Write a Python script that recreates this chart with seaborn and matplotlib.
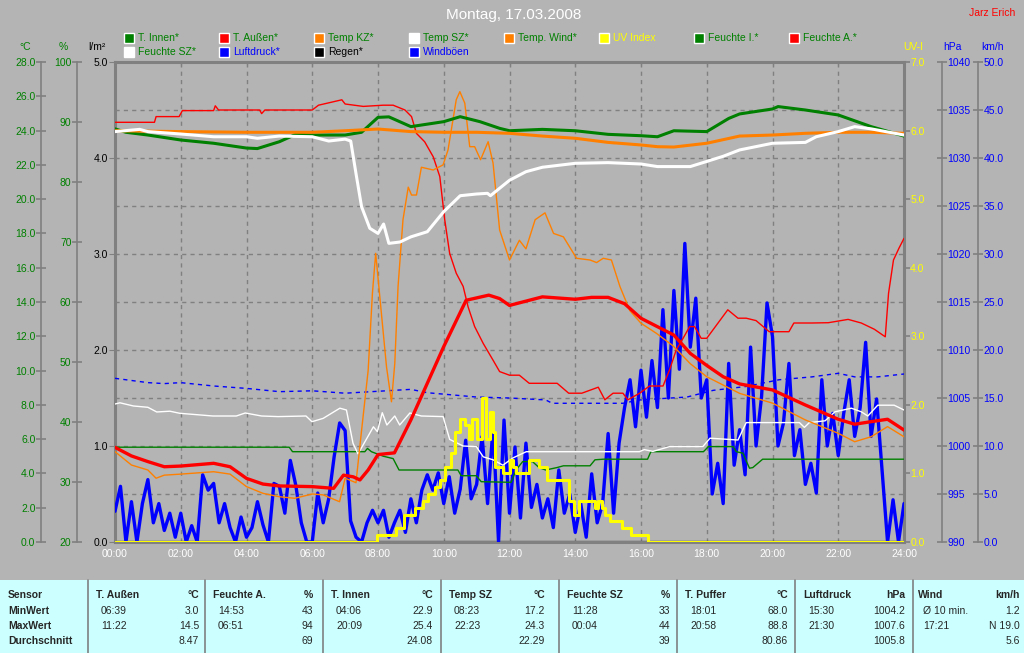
import matplotlib
matplotlib.use("Agg")
import matplotlib.pyplot as plt
import seaborn as sns
import numpy as np
from matplotlib.patches import Rectangle
from matplotlib.lines import Line2D
from matplotlib.ticker import FormatStrFormatter

# ---------------- data (time in hours since midnight) ----------------
# T. Innen (degC)
t_innen_t = [0, 0.33, 1, 2, 3, 4, 4.33, 5, 5.5, 6, 7, 7.5, 8, 8.33, 9, 10, 10.5, 11.1, 11.7, 12, 13, 14,
             15, 16, 16.5, 17, 18, 18.67, 19, 20, 20.17, 21, 22, 23, 24]
t_innen = [24.1, 23.9, 23.74, 23.45, 23.26, 22.98, 22.95, 23.35, 23.78, 23.74, 23.74, 23.9, 24.77, 24.8,
           24.23, 24.52, 24.81, 24.52, 24.13, 23.99, 24.07, 23.99, 23.78, 23.70, 23.64, 23.99, 23.94,
           24.71, 24.97, 25.26, 25.4, 25.2, 24.91, 24.23, 23.68]

# T. Aussen (degC)
t_aussen_t = [0, 0.5, 1, 1.5, 2, 3, 3.5, 4, 4.5, 5, 6, 6.65, 6.95, 7.25, 7.45, 7.7, 8.0, 8.5, 9.0, 9.5,
              10.0, 10.68, 11.37, 11.7, 12, 13, 14, 14.5, 15, 15.5, 16, 16.5, 17, 17.5, 18, 18.5, 19,
              20, 21, 22, 22.5, 23, 23.5, 24]
t_aussen = [5.52, 5.02, 4.69, 4.39, 4.43, 4.59, 4.39, 3.71, 3.38, 3.27, 3.23, 3.13, 3.9, 3.8, 3.62, 4.2,
            5.1, 5.2, 7.12, 9.26, 11.4, 14.1, 14.4, 14.2, 13.8, 14.3, 14.16, 14.27, 14.27, 13.9, 13.05,
            12.56, 12.07, 11.0, 10.3, 9.64, 9.22, 8.87, 7.99, 7.16, 6.87, 7.02, 7.16, 6.53]

# Temp KZ (degC)
temp_kz_t = [0, 2, 4, 6, 7, 8, 9, 10, 11, 12, 13, 14, 15, 16, 16.5, 17, 18, 19, 20, 21, 22, 23, 24]
temp_kz = [23.99, 23.94, 23.9, 23.9, 23.99, 24.09, 23.94, 23.9, 23.9, 23.84, 23.68, 23.55, 23.31, 23.16,
           23.06, 23.04, 23.26, 23.68, 23.74, 23.84, 23.9, 23.9, 23.84]

# Temp SZ (degC)
temp_sz_t = [0, 0.75, 1, 2, 3, 4, 4.33, 5, 6, 6.5, 7, 7.17, 7.33, 7.5, 7.75, 8.0, 8.17, 8.33, 8.67, 9.0,
             9.5, 10.0, 10.5, 11.0, 11.33, 11.42, 12.0, 12.5, 13, 14, 15, 16, 16.5, 17.5, 18, 18.5, 19,
             20, 21, 21.33, 22, 22.5, 23, 24]
temp_sz = [23.94, 24.07, 23.94, 23.8, 23.64, 23.64, 23.55, 23.68, 23.64, 23.39, 23.5, 23.39, 21.5, 19.56,
           18.3, 18.0, 18.55, 17.42, 17.5, 17.8, 18.1, 19.27, 20.2, 20.3, 20.34, 20.2, 21.1, 21.6, 21.86,
           22.09, 22.13, 22.05, 21.9, 21.9, 22.2, 22.5, 22.87, 23.26, 23.31, 23.64, 23.94, 24.23, 24.1,
           23.74]

# Temp. Wind (degC)
temp_wind_t = [0, 0.5, 1, 1.25, 1.5, 2, 3, 3.5, 4, 4.5, 5, 5.47, 6, 6.33, 6.83, 7.0, 7.33, 7.5, 7.7, 7.83,
               7.93, 8.1, 8.26, 8.41, 8.51, 8.61, 8.76, 8.92, 9.02, 9.17, 9.32, 9.68, 9.98, 10.13, 10.38,
               10.49, 10.64, 10.79, 10.94, 11.12, 11.35, 11.5, 11.7, 12.0, 12.3, 12.5, 12.78, 13.08,
               13.34, 13.64, 14.04, 14.45, 14.65, 14.85, 15.1, 15.36, 15.66, 16.0, 16.47, 16.97, 17.5,
               18, 19, 20, 21, 22, 22.5, 23, 23.5, 24]
temp_wind = [5.27, 4.49, 4.2, 3.72, 3.9, 3.96, 4.1, 3.96, 3.23, 2.84, 2.64, 2.55, 2.8, 2.75, 2.35, 3.72,
             3.46, 6.5, 10.0, 14.5, 16.84, 13.4, 10.2, 8.18, 10.4, 14.9, 18.8, 20.7, 20.24, 20.24, 21.86,
             21.7, 22.0, 22.87, 25.8, 26.27, 25.6, 23.06, 23.06, 22.3, 23.35, 22.1, 18.2, 16.45, 17.6,
             17.1, 18.8, 19.2, 18.0, 17.8, 16.55, 16.45, 16.3, 16.55, 16.45, 14.9, 13.5, 12.76, 12.17,
             11.45, 10.4, 9.64, 8.67, 8.1, 7.12, 6.34, 5.85, 6.14, 6.73, 6.14]

# UV index (step values)
uv_t = [0, 7.98, 8.56, 8.78, 9.12, 9.37, 9.52, 9.73, 9.88, 10.03, 10.23, 10.33, 10.5, 10.66, 10.76, 10.86,
        11.02, 11.15, 11.3, 11.4, 11.5, 11.55, 11.8, 12.0, 12.1, 12.2, 12.6, 12.9, 13.14, 13.8, 13.95,
        14.1, 14.6, 14.7, 14.8, 14.9, 15.06, 15.42, 15.7, 16.2, 24]
uv = [0, 0.1, 0.2, 0.4, 0.5, 0.6, 0.7, 0.8, 0.9, 1.1, 1.3, 1.6, 1.8, 1.7, 1.5, 1.8, 1.5, 2.1, 1.5, 1.9,
      1.6, 1.1, 1.0, 1.2, 1.1, 1.0, 1.2, 1.1, 0.9, 0.6, 0.4, 0.6, 0.5, 0.6, 0.5, 0.4, 0.3, 0.2, 0.1,
      0.0, 0.0]

# Feuchte I. (%)
feuchte_i_t = [0, 5.3, 5.4, 7.6, 7.68, 7.8, 7.98, 8.16, 8.46, 8.64, 10.43, 10.53, 10.99, 11.14, 12.05,
               12.2, 12.4, 12.7, 12.9, 13.1, 13.44, 13.64, 14.45, 14.6, 14.85, 16.2, 16.3, 17.9, 18.05,
               18.8, 18.9, 19.1, 19.3, 19.4, 19.7, 24]
feuchte_i = [35.8, 35.8, 35.05, 35.05, 35.6, 35.05, 34.67, 34.3, 33.9, 32.0, 32.0, 31.05, 31.05, 30.05,
             29.95, 32.0, 33.4, 33.4, 32.4, 32.0, 32.4, 32.7, 32.7, 33.7, 33.8, 33.8, 35.05, 35.05, 35.9,
             35.9, 35.05, 34.8, 32.3, 32.4, 33.8, 33.8]

# Feuchte A. (%)
feuchte_a_t = [0, 1.2, 1.25, 1.95, 2.05, 3.0, 3.05, 3.15, 4.4, 4.46, 4.56, 6.0, 6.19, 6.9, 7.0, 7.55,
               8.16, 8.46, 8.82, 9.02, 9.17, 9.42, 9.68, 9.88, 10.03, 10.18, 10.38, 10.59, 10.74, 10.94,
               11.2, 11.5, 11.7, 12.0, 12.3, 12.6, 13.1, 13.45, 13.8, 14.2, 14.7, 14.9, 15.15, 15.45,
               15.6, 15.96, 16.26, 16.67, 16.87, 17.07, 17.28, 17.48, 17.63, 17.83, 18.0, 18.64, 18.95,
               19.2, 19.5, 19.9, 20.5, 20.65, 21.2, 21.7, 22.3, 22.7, 23.1, 23.43, 23.53, 23.68, 23.85,
               24.0]
feuchte_a = [89.95, 89.95, 90.9, 90.9, 91.9, 91.9, 92.7, 92.0, 92.0, 91.4, 92.0, 92.0, 92.8, 93.7, 93.0,
             92.6, 92.8, 92.8, 92.0, 90.9, 88.1, 86.7, 84.2, 80.9, 73.7, 68.1, 64.8, 62.6, 59.2, 55.9,
             53.1, 50.3, 48.4, 47.8, 47.8, 46.45, 46.45, 46.45, 44.8, 44.8, 45.8, 43.7, 44.8, 44.8, 43.7,
             44.8, 46.0, 46.0, 48.7, 52.0, 53.95, 55.9, 55.9, 53.95, 53.95, 58.7, 57.3, 57.3, 56.9,
             55.05, 55.05, 56.5, 56.5, 56.55, 57.1, 56.5, 55.45, 54.2, 61.45, 67.0, 69.0, 70.6]

# Feuchte SZ (%)
feuchte_sz_t = [0, 0.15, 0.56, 1.0, 1.27, 1.67, 1.97, 2.98, 3.69, 3.96, 4.46, 4.96, 5.81, 5.99, 6.33,
                6.84, 7.04, 7.24, 7.39, 7.55, 7.86, 7.98, 8.13, 8.27, 8.51, 8.66, 8.97, 9.32, 9.98, 10.18,
                10.59, 10.99, 11.2, 11.5, 11.8, 12.1, 12.51, 15.95, 16.1, 16.36, 16.87, 17.88, 18.1,
                18.95, 19.2, 20.82, 20.97, 21.12, 21.6, 21.9, 22.4, 22.7, 22.9, 23.2, 23.7, 24.0]
feuchte_sz = [43.0, 43.2, 42.67, 42.45, 41.67, 41.8, 41.45, 41.0, 41.0, 41.5, 41.0, 40.9, 41.0, 40.05,
              40.6, 42.3, 42.0, 36.45, 34.7, 36.2, 39.2, 38.4, 41.55, 39.5, 41.0, 39.5, 41.5, 41.0, 40.9,
              37.1, 36.0, 35.9, 34.2, 33.7, 32.8, 34.0, 35.05, 35.05, 35.4, 35.1, 35.9, 35.9, 37.3, 37.0,
              39.9, 39.9, 39.1, 39.9, 40.2, 41.7, 42.3, 41.7, 41.0, 42.8, 42.8, 42.0]

# Luftdruck (hPa)
luftdruck_t = [0, 1, 1.5, 2, 3, 4, 5, 6, 7, 8, 9, 9.5, 10, 11, 12.0, 13.1, 13.3, 15.45, 15.96, 17.4, 18.2,
               19.2, 20.2, 21.2, 22.0, 22.5, 23.2, 24]
luftdruck = [1007.05, 1006.6, 1006.5, 1006.6, 1006.25, 1006.0, 1005.66, 1005.75, 1005.5, 1005.7, 1005.9,
             1005.55, 1005.4, 1005.1, 1005.0, 1004.8, 1004.45, 1004.45, 1004.8, 1005.1, 1005.8, 1006.2,
             1006.9, 1007.2, 1007.57, 1007.2, 1007.2, 1007.5]

# Regen (l/m2)
regen_t = [0, 24]
regen = [0.0, 0.0]

# Windboeen (km/h), every 10 minutes 00:00 .. 24:00
wind_t = np.linspace(0, 24, 145)
windboeen = [
    3.2, 5.8, 0.0, 4.2, 0.0, 4.0,
    6.5, 2.0, 4.0, 1.2, 3.0, 0.5,
    3.0, 0.0, 1.7, 0.0, 7.0, 5.4,
    6.1, 2.0, 4.0, 1.5, 0.0, 2.6,
    0.5, 1.5, 4.2, 1.8, 0.0, 6.1,
    5.8, 3.0, 8.5, 5.9, 2.0, 0.0,
    0.0, 5.1, 2.0, 4.5, 8.9, 12.4,
    11.6, 2.2, 0.5, 0.0, 2.0, 3.3,
    2.0, 3.3, 0.5, 2.0, 3.3, 1.0,
    4.5, 2.0, 5.4, 7.0, 5.4, 7.2,
    4.0, 6.8, 3.0, 5.5, 10.6, 4.5,
    6.0, 11.0, 4.0, 12.0, 0.0, 12.7,
    3.0, 9.9, 2.5, 10.3, 3.6, 6.0,
    2.5, 4.5, 1.5, 7.5, 3.0, 5.0,
    1.0, 4.0, 0.5, 7.1, 2.0, 4.0,
    11.3, 3.0, 10.3, 14.0, 16.9, 12.0,
    17.9, 13.0, 18.9, 14.0, 24.2, 15.0,
    26.2, 18.0, 31.1, 20.3, 25.4, 15.0,
    16.9, 5.0, 8.2, 4.0, 18.6, 8.0,
    11.7, 7.0, 20.3, 10.0, 15.1, 24.9,
    21.4, 10.0, 12.4, 18.6, 9.0, 11.7,
    6.0, 8.2, 5.1, 16.9, 10.0, 13.4,
    9.0, 13.4, 16.9, 11.0, 14.0, 20.8,
    11.0, 14.9, 7.5, 0.0, 4.4, 0.0,
    4.0]

hours = list(range(0, 25, 2))
hour_labels = [f"{h:02d}:00" for h in hours]

# summary table
table_cols = [
    ("T. Außen", "°C", [("06:39", "3.0"), ("11:22", "14.5"), ("", "8.47")]),
    ("Feuchte A.", "%", [("14:53", "43"), ("06:51", "94"), ("", "69")]),
    ("T. Innen", "°C", [("04:06", "22.9"), ("20:09", "25.4"), ("", "24.08")]),
    ("Temp SZ", "°C", [("08:23", "17.2"), ("22:23", "24.3"), ("", "22.29")]),
    ("Feuchte SZ", "%", [("11:28", "33"), ("00:04", "44"), ("", "39")]),
    ("T. Puffer", "°C", [("18:01", "68.0"), ("20:58", "88.8"), ("", "80.86")]),
    ("Luftdruck", "hPa", [("15:30", "1004.2"), ("21:30", "1007.6"), ("", "1005.8")]),
    ("Wind", "km/h", [("Ø 10 min.", "1.2"), ("17:21", "N 19.0"), ("", "5.6")]),
]
row_names = ["Sensor", "MinWert", "MaxWert", "Durchschnitt"]

# ---------------- style ----------------
sns.set_style("white")
plt.rcParams['font.family'] = ['Liberation Sans', 'DejaVu Sans']
plt.rcParams['font.size'] = 7.5

BG = '#b4b4b4'
GREEN = '#008000'
RED = '#ff0000'
ORANGE = '#ff8000'
YELLOW = '#ffff00'
BLUE = '#0000ff'
GRID = '#808080'

W, H = 1024, 653
fig = plt.figure(figsize=(W / 100, H / 100), dpi=100, facecolor=BG)


def fx(px):
    return px / W


def fy(py):
    return 1 - py / H


X0, X1, YT, YB = 115, 904, 62, 542
ax = fig.add_axes([fx(X0), fy(YB), (X1 - X0) / W, (YB - YT) / H])
ax.set_facecolor(BG)
for s in ax.spines.values():
    s.set_color(GRID)
    s.set_linewidth(2.2)
for yv in np.arange(0.5, 5, 0.5):
    ax.axhline(yv, color=GRID, lw=1, ls=(0, (3, 3)), zorder=0)
for xv in range(2, 24, 2):
    ax.axvline(xv, color=GRID, lw=1, ls=(0, (3, 3)), zorder=0)

sns.lineplot(x=regen_t, y=regen, ax=ax, color='black', lw=1.6, errorbar=None, legend=False)


def side_axis(side, px, lo, hi, step, color, fmt, length=7, direction='inout'):
    a = ax.twinx()
    for s in a.spines.values():
        s.set_visible(False)
    if px is not None:
        sp = a.spines[side]
        sp.set_visible(True)
        sp.set_position(('axes', (px - X0) / (X1 - X0)))
        sp.set_color(GRID)
        sp.set_linewidth(1.2)
    a.yaxis.set_ticks_position(side)
    a.set_ylim(lo, hi)
    a.set_yticks(np.arange(lo, hi + step / 2, step))
    a.yaxis.set_major_formatter(FormatStrFormatter(fmt))
    a.tick_params(axis='y', direction=direction, length=length, width=1.2, color=GRID,
                  labelcolor=color, labelsize=7.5, pad=0.5)
    return a


ax_w = side_axis('right', 978, 0, 50, 5, BLUE, '%.1f')
ax_p = side_axis('right', 942, 990, 1040, 5, BLUE, '%d')
ax_h = side_axis('left', 77, 20, 100, 10, GREEN, '%d')
ax_t = side_axis('left', 41, 0, 28, 2, GREEN, '%.1f')
ax_uv = side_axis('right', None, 0, 7, 1, YELLOW, '%.1f', length=4, direction='out')

kw = dict(errorbar=None, legend=False)
sns.lineplot(x=wind_t, y=windboeen, ax=ax_w, color=BLUE, lw=2.4, **kw)
sns.lineplot(x=luftdruck_t, y=luftdruck, ax=ax_p, color=BLUE, lw=1, ls=(0, (3, 3)), **kw)
sns.lineplot(x=feuchte_i_t, y=feuchte_i, ax=ax_h, color=GREEN, lw=1, **kw)
sns.lineplot(x=feuchte_a_t, y=feuchte_a, ax=ax_h, color=RED, lw=1, **kw)
sns.lineplot(x=feuchte_sz_t, y=feuchte_sz, ax=ax_h, color='white', lw=1, **kw)
sns.lineplot(x=temp_wind_t, y=temp_wind, ax=ax_t, color=ORANGE, lw=1, **kw)
sns.lineplot(x=t_innen_t, y=t_innen, ax=ax_t, color=GREEN, lw=2.2, **kw)
sns.lineplot(x=temp_kz_t, y=temp_kz, ax=ax_t, color=ORANGE, lw=2.2, **kw)
sns.lineplot(x=temp_sz_t, y=temp_sz, ax=ax_t, color='white', lw=2.2, **kw)
sns.lineplot(x=t_aussen_t, y=t_aussen, ax=ax_t, color=RED, lw=2.4, **kw)
sns.lineplot(x=uv_t, y=uv, ax=ax_uv, color=YELLOW, lw=2.2, drawstyle='steps-post', **kw)

for a, lim in [(ax_w, (0, 50)), (ax_p, (990, 1040)), (ax_h, (20, 100)), (ax_t, (0, 28)), (ax_uv, (0, 7))]:
    a.set_ylim(*lim)
    a.set_ylabel('')
ax.set_xlim(0, 24)
ax.set_ylim(0, 5)
ax.set_xlabel('')
ax.set_ylabel('')
ax.set_xticks(hours)
ax.set_xticklabels(hour_labels)
ax.tick_params(axis='x', direction='in', length=3, color=GRID, labelcolor='white', labelsize=7.5,
               top=True, pad=5)
ax.set_yticks(np.arange(0, 5.1, 1))
ax.yaxis.set_major_formatter(FormatStrFormatter('%.1f'))
ax.yaxis.set_ticks_position('left')
ax.tick_params(axis='y', direction='out', length=4, color=GRID, labelcolor='black', labelsize=7.5, pad=1)

# axis headers
for txt, xp, col in [("°C", 25, GREEN), ("%", 63, GREEN), ("l/m²", 97, 'black'),
                     ("UV-I", 913, YELLOW), ("hPa", 952, BLUE), ("km/h", 992, BLUE)]:
    fig.text(fx(xp), fy(47), txt, color=col, ha='center', va='center', fontsize=7.5)

# title
fig.text(fx(514), fy(15), "Montag, 17.03.2008", color='white', ha='center', va='center', fontsize=11)
fig.text(fx(992), fy(13), "Jarz Erich", color=RED, ha='center', va='center', fontsize=7.5)

# legend
legend_rows = [
    [("T. Innen*", GREEN, GREEN), ("T. Außen*", RED, GREEN), ("Temp KZ*", ORANGE, GREEN),
     ("Temp SZ*", 'white', GREEN), ("Temp. Wind*", ORANGE, GREEN), ("UV Index", YELLOW, YELLOW),
     ("Feuchte I.*", GREEN, GREEN), ("Feuchte A.*", RED, GREEN)],
    [("Feuchte SZ*", 'white', GREEN), ("Luftdruck*", BLUE, BLUE), ("Regen*", 'black', 'black'),
     ("Windböen", BLUE, BLUE)],
]
for r, (row, ycen) in enumerate(zip(legend_rows, [38, 52])):
    for i, (name, sq, tc) in enumerate(row):
        xl = 124 + 95 * i
        fig.add_artist(Rectangle((fx(xl), fy(ycen + 5)), 10 / W, 10 / H, transform=fig.transFigure,
                                 facecolor=sq, edgecolor='white', lw=1))
        fig.text(fx(xl + 14), fy(ycen), name, color=tc, ha='left', va='center', fontsize=7.5)

# summary table
fig.add_artist(Rectangle((0, 0), 1, (653 - 580) / H, transform=fig.transFigure,
                         facecolor='#ccffff', edgecolor='none'))
seps = [88, 205, 323, 441, 559, 677, 795, 913, 1024]
right_edges = [199, 313, 433, 545, 670, 788, 905, 1020]
row_y = [595, 611, 626, 641]
for xs in seps[:-1]:
    fig.add_artist(Line2D([fx(xs), fx(xs)], [fy(580), fy(653)], transform=fig.transFigure,
                          color=GRID, lw=1.2))
for name, yy in zip(row_names, row_y):
    fig.text(fx(8), fy(yy), name, fontweight='bold', ha='left', va='center', fontsize=7.5)
for (head, unit, vals), xs, xr in zip(table_cols, seps, right_edges):
    off = 5 if head == "Wind" else 8
    fig.text(fx(xs + off), fy(row_y[0]), head, fontweight='bold', ha='left', va='center', fontsize=7.5)
    fig.text(fx(xr), fy(row_y[0]), unit, fontweight='bold', ha='right', va='center', fontsize=7.5)
    for (tm, val), yy in zip(vals, row_y[1:]):
        if tm:
            fig.text(fx(xs + off + 5), fy(yy), tm, ha='left', va='center', fontsize=7.5)
        fig.text(fx(xr), fy(yy), val, ha='right', va='center', fontsize=7.5)

fig.savefig('out.png', dpi=100, facecolor=BG)
